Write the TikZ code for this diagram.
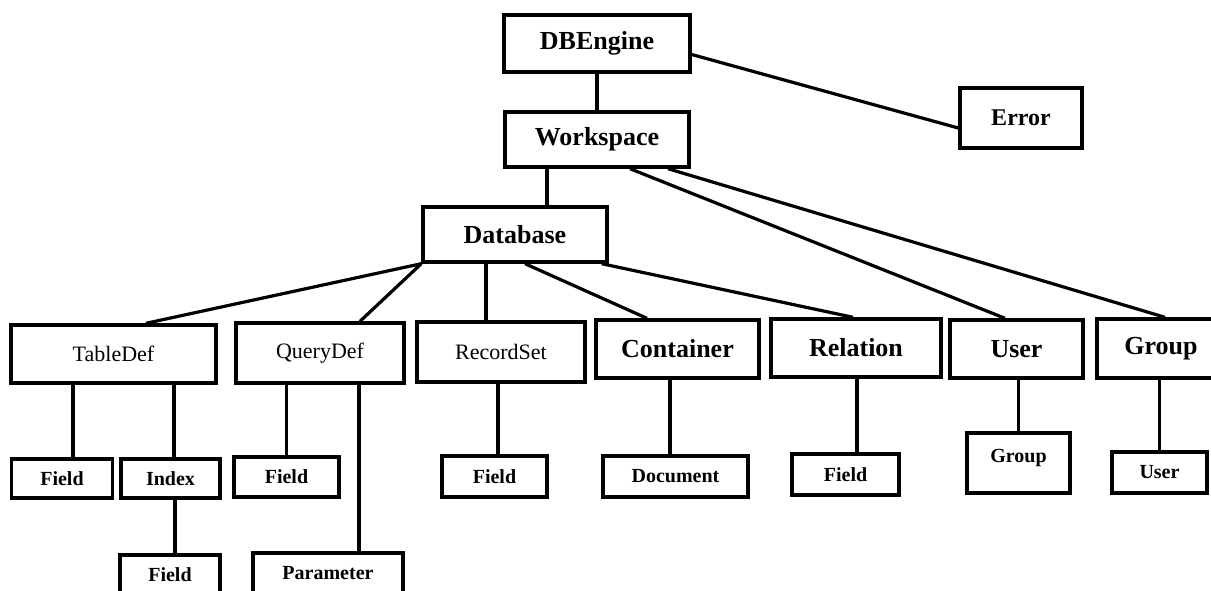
\documentclass[tikz,border=0pt]{standalone}
\usepackage{fontspec}
\setmainfont{Liberation Serif}
\begin{document}
\begin{tikzpicture}[x=1pt,y=-1pt,line width=3.2pt,
  box/.style={draw,line width=3.4pt,inner sep=0pt,anchor=center},
  big/.style={box,font=\bfseries\fontsize{26}{28}\selectfont},
  mid/.style={box,font=\fontsize{22}{24}\selectfont},
  small/.style={box,font=\bfseries\fontsize{20}{22}\selectfont}]
\useasboundingbox (0,0) rectangle (1211,590);
\clip (0,0) rectangle (1211,590);

% top levels
\node[big,minimum width=186pt,minimum height=57pt] (dbe) at (597,43.5) {DBEngine};
\node[big,minimum width=184pt,minimum height=55pt] (ws) at (597,139.5) {Workspace};
\node[big,font=\bfseries\fontsize{24}{26}\selectfont,minimum width=122pt,minimum height=60pt] (err) at (1021,118) {Error};
\node[big,minimum width=184pt,minimum height=55pt] (db) at (515,234.5) {Database};

% second level
\node[mid,minimum width=205pt,minimum height=58pt] (td) at (113.5,354) {TableDef};
\node[mid,minimum width=168pt,minimum height=60pt] (qd) at (320,353) {QueryDef};
\node[mid,minimum width=168pt,minimum height=60pt] (rs) at (501,352) {RecordSet};
\node[big,minimum width=163pt,minimum height=58pt] (ct) at (677.5,349) {Container};
\node[big,minimum width=170pt,minimum height=58pt] (rel) at (856,348) {Relation};
\node[big,minimum width=133pt,minimum height=58pt] (usr) at (1016.5,349) {User};
\node[big,minimum width=128pt,minimum height=59pt] (grp) at (1161,348.5) {Group};

% leaves
\node[small,minimum width=101pt,minimum height=39pt] (tdf) at (62,478.5) {Field};
\node[small,minimum width=99pt,minimum height=39pt] (idx) at (170.5,478.5) {Index};
\node[small,minimum width=100pt,minimum height=40pt] (idxf) at (170,575) {Field};
\node[small,minimum width=105pt,minimum height=40pt] (qdf) at (286.5,477) {Field};
\node[small,minimum width=150pt,minimum height=40pt] (par) at (328,573) {Parameter};
\node[small,minimum width=105pt,minimum height=41pt] (rsf) at (494.5,476.5) {Field};
\node[small,minimum width=145pt,minimum height=41pt] (doc) at (675.5,476.5) {Document};
\node[small,minimum width=107pt,minimum height=41pt] (relf) at (845.5,474.5) {Field};
\node[small,minimum width=103pt,minimum height=60pt,text depth=14pt] (ugrp) at (1018.5,463) {Group};
\node[small,minimum width=95pt,minimum height=41pt] (gusr) at (1159.5,472.5) {User};

% connectors
\draw (dbe.south) -- (ws.north);
\draw ([yshift=-11pt]dbe.east) -- ([yshift=-10pt]err.west);
\draw ([xshift=-50pt]ws.south) -- ([xshift=32pt]db.north);
\draw ([xshift=33pt]ws.south) -- ([xshift=-11.5pt]usr.north);
\draw ([xshift=71pt]ws.south) -- ([xshift=4pt]grp.north);

\draw (db.south west) -- ([xshift=32.5pt]td.north);
\draw (db.south west) -- ([xshift=40pt]qd.north);
\draw ([xshift=-29pt]db.south) -- ([xshift=-29pt]db.south |- rs.north);
\draw ([xshift=10pt]db.south) -- ([xshift=-30.5pt]ct.north);
\draw ([xshift=-7pt]db.south east) -- ([xshift=-3pt]rel.north);

\draw ([xshift=11pt]tdf.north) -- ([xshift=11pt]tdf.north |- td.south);
\draw ([xshift=3.5pt]idx.north) -- ([xshift=3.5pt]idx.north |- td.south);
\draw ([xshift=5pt]idxf.north) -- ([xshift=5pt]idxf.north |- idx.south);
\draw (qdf.north) -- (qdf.north |- qd.south);
\draw ([xshift=31pt]par.north) -- ([xshift=31pt]par.north |- qd.south);
\draw ([xshift=3.5pt]rsf.north) -- ([xshift=3.5pt]rsf.north |- rs.south);
\draw ([xshift=-5.5pt]doc.north) -- ([xshift=-5.5pt]doc.north |- ct.south);
\draw ([xshift=11.5pt]relf.north) -- ([xshift=11.5pt]relf.north |- rel.south);
\draw (ugrp.north) -- (ugrp.north |- usr.south);
\draw (gusr.north) -- (gusr.north |- grp.south);
\end{tikzpicture}
\end{document}
